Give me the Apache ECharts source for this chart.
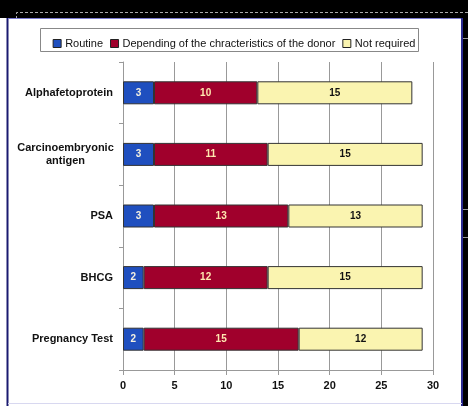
<!DOCTYPE html>
<html><head><meta charset="utf-8">
<script src="https://cdn.jsdelivr.net/npm/echarts@6/dist/echarts.min.js"></script>
<style>html,body{margin:0;padding:0;background:#fff;}#c{width:468px;height:406px;}</style>
</head><body><div id="c"></div>
<script>
var categories = ['Alphafetoprotein', 'Carcinoembryonic\nantigen', 'PSA', 'BHCG', 'Pregnancy Test'];
var seriesNames = ['Routine', 'Depending of the chracteristics of the donor', 'Not required'];
var routine = [3, 3, 3, 2, 2];
var depending = [10, 11, 13, 12, 15];
var notRequired = [15, 15, 13, 15, 12];
var xTicks = [0, 5, 10, 15, 20, 25, 30];

var colors = ['#1f4fbf', '#a0002c', '#faf4b0'];
var labelColors = ['#f4f0e0', '#ffe8b0', '#111'];
var values = [routine, depending, notRequired];

var chart = echarts.init(document.getElementById('c'), null, {renderer: 'canvas'});
var series = seriesNames.map(function (n, i) {
  return {
    name: n, type: 'bar', stack: 'all', barWidth: 23,
    data: values[i],
    itemStyle: {color: colors[i], borderColor: '#333', borderWidth: 1},
    label: {show: true, position: 'inside', color: labelColors[i], fontWeight: 'bold', fontSize: 10, fontFamily: 'Liberation Sans, Arial'}
  };
});
chart.setOption({
  animation: false,
  backgroundColor: '#fff',
  graphic: [
    {type: 'rect', shape: {x: 0, y: 0, width: 468, height: 18}, style: {fill: '#000'}, z: 0},
    {type: 'rect', shape: {x: 463, y: 0, width: 5, height: 406}, style: {fill: '#000'}, z: 0},
    {type: 'polyline', shape: {points: [[16.5, 19], [16.5, 12.5], [468, 12.5]]}, style: {stroke: '#aaa', lineWidth: 1, lineDash: [3, 2], fill: null}, z: 1},
    {type: 'line', shape: {x1: 7.5, y1: 18, x2: 7.5, y2: 406}, style: {stroke: '#1a1a70', lineWidth: 2}, z: 1},
    {type: 'line', shape: {x1: 8, y1: 18.5, x2: 462, y2: 18.5}, style: {stroke: '#7a7ad0', lineWidth: 1}, z: 1},
    {type: 'line', shape: {x1: 462, y1: 18, x2: 462, y2: 406}, style: {stroke: '#2a2a90', lineWidth: 2}, z: 1},
    {type: 'line', shape: {x1: 8, y1: 403.5, x2: 462, y2: 403.5}, style: {stroke: '#d8d8f0', lineWidth: 1}, z: 1},
    {type: 'line', shape: {x1: 463, y1: 38.5, x2: 468, y2: 38.5}, style: {stroke: '#999', lineWidth: 1}, z: 1},
    {type: 'line', shape: {x1: 463, y1: 209.5, x2: 468, y2: 209.5}, style: {stroke: '#999', lineWidth: 1}, z: 1},
    {type: 'line', shape: {x1: 463, y1: 237.5, x2: 468, y2: 237.5}, style: {stroke: '#999', lineWidth: 1}, z: 1},
    {type: 'rect', shape: {x: 40.5, y: 28.5, width: 378, height: 23}, style: {fill: '#fff', stroke: '#888', lineWidth: 1}, z: 1}
  ],
  legend: {
    top: 33, left: 'center', itemWidth: 8, itemHeight: 8, itemGap: 7,
    icon: 'rect',
    itemStyle: {borderColor: '#222', borderWidth: 1},
    textStyle: {fontSize: 11, color: '#111', fontFamily: 'Liberation Sans, Arial', padding: [0, 0, 0, -1]},
    data: seriesNames
  },
  grid: {left: 123, right: 35, top: 62, bottom: 36, containLabel: false},
  xAxis: {
    type: 'value', min: 0, max: 30, interval: 5,
    axisLine: {show: true, lineStyle: {color: '#999'}},
    axisTick: {show: true, length: 5, lineStyle: {color: '#999'}},
    axisLabel: {color: '#111', fontWeight: 'bold', fontSize: 11, fontFamily: 'Liberation Sans, Arial', margin: 10,
      formatter: function (v) { return xTicks.indexOf(v) >= 0 ? String(v) : ''; }},
    splitLine: {show: true, lineStyle: {color: '#999', width: 1}}
  },
  yAxis: {
    type: 'category', data: categories, inverse: true,
    axisLine: {show: true, lineStyle: {color: '#999'}},
    axisTick: {show: true, length: 4, lineStyle: {color: '#999'}},
    axisLabel: {color: '#111', fontWeight: 'bold', fontSize: 11, fontFamily: 'Liberation Sans, Arial', margin: 10, lineHeight: 13,
      formatter: function (v) {
        if (v.indexOf('\n') >= 0) {
          return v.split('\n').map(function (s) { return '{c|' + s + '}'; }).join('\n');
        }
        return v;
      },
      rich: {c: {width: 95, align: 'center', fontWeight: 'bold', fontSize: 11, color: '#111', fontFamily: 'Liberation Sans, Arial', lineHeight: 13}}
    }
  },
  series: series
});
</script></body></html>
